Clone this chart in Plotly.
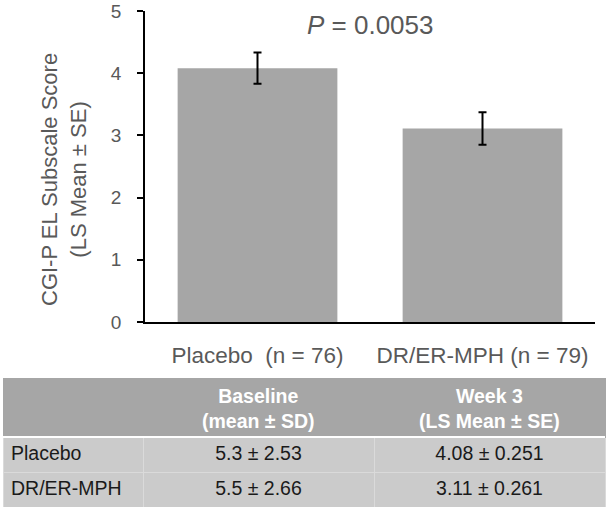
import plotly.graph_objects as go

# ---- data ----
categories = ["Placebo\u00a0\u00a0(n = 76)", "DR/ER-MPH (n = 79)"]
ls_means = [4.08, 3.11]
ls_se = [0.251, 0.261]
y_ticks = [0, 1, 2, 3, 4, 5]
p_value_text = "<i>P</i> = 0.0053"

table_header = ["", "<b>Baseline<br>(mean ± SD)</b>", "<b>Week 3<br>(LS Mean ± SE)</b>"]
table_groups = ["Placebo", "DR/ER-MPH"]
table_baseline = ["5.3 ± 2.53", "5.5 ± 2.66"]
table_week3 = ["4.08 ± 0.251", "3.11 ± 0.261"]

W, H = 609, 512
FONT = "Arial, 'Liberation Sans', sans-serif"
GRAY_TXT = "#595959"

# table geometry (px)
T_LEFT, T_RIGHT, T_TOP, T_BOTTOM = 3, 605, 378, 507
COL_W = [140, 231, 231]
HEAD_H, ROW_H = 59, 35

fig = go.Figure()

fig.add_trace(go.Bar(
    x=categories,
    y=ls_means,
    marker=dict(color="#a6a6a6", line=dict(width=0)),
    error_y=dict(type="data", array=ls_se, visible=True,
                 color="black", thickness=2, width=4),
    xaxis="x", yaxis="y",
    showlegend=False,
    hoverinfo="skip",
))

fig.add_trace(go.Table(
    domain=dict(x=[T_LEFT / W, T_RIGHT / W], y=[1 - T_BOTTOM / H, 1 - T_TOP / H]),
    columnwidth=COL_W,
    header=dict(
        values=["", "", ""],
        fill_color="#a6a6a6",
        line=dict(color="#a6a6a6", width=1),
        height=HEAD_H,
    ),
    cells=dict(
        values=[table_groups, table_baseline, table_week3],
        fill_color="#cbcbcb",
        line=dict(color="#dadada", width=1),
        align=["left", "center", "center"],
        font=dict(family=FONT, size=19.5, color="#1a1a1a"),
        height=ROW_H,
    ),
))

# header labels as centred annotations
annotations = []
col_left = T_LEFT
for i, w in enumerate(COL_W):
    if table_header[i]:
        annotations.append(dict(
            text=table_header[i],
            x=(col_left + w / 2) / W, y=1 - (T_TOP + HEAD_H / 2 + 1) / H,
            xref="paper", yref="paper", xanchor="center", yanchor="middle",
            showarrow=False, align="center",
            font=dict(family=FONT, size=19.5, color="white"),
        ))
    col_left += w

annotations += [
    dict(
        text=p_value_text,
        x=370 / W, y=1 - 25 / H, xref="paper", yref="paper",
        xanchor="center", yanchor="middle", showarrow=False,
        font=dict(family=FONT, size=26, color=GRAY_TXT),
    ),
    dict(
        text="CGI-P EL Subscale Score<br>(LS Mean ± SE)",
        x=64 / W, y=1 - 180 / H, xref="paper", yref="paper",
        xanchor="center", yanchor="middle", showarrow=False,
        textangle=-90,
        font=dict(family=FONT, size=22, color=GRAY_TXT),
    ),
]

fig.update_layout(
    width=W, height=H,
    autosize=False,
    margin=dict(l=0, r=0, t=0, b=0, autoexpand=False),
    paper_bgcolor="white",
    plot_bgcolor="white",
    bargap=0.29,
    font=dict(family=FONT, color=GRAY_TXT),
    xaxis=dict(
        domain=[145 / W, 595 / W],
        automargin=False,
        showline=True, linecolor="black", linewidth=1.5,
        ticks="", showgrid=False, zeroline=False,
        tickfont=dict(family=FONT, size=22.5, color=GRAY_TXT),
        ticklabelstandoff=12,
    ),
    yaxis=dict(
        domain=[1 - 322 / H, 1 - 11 / H],
        automargin=False,
        range=[0, 5],
        tickvals=y_ticks,
        showline=True, linecolor="black", linewidth=1.5,
        ticks="outside", ticklen=6, tickcolor="black", tickwidth=1.5,
        showgrid=False, zeroline=False,
        tickfont=dict(family=FONT, size=19, color=GRAY_TXT),
        ticklabelstandoff=12,
    ),
    annotations=annotations,
    shapes=[
        dict(type="line", xref="paper", yref="paper",
             x0=T_LEFT / W, x1=T_RIGHT / W,
             y0=1 - (T_TOP + HEAD_H) / H, y1=1 - (T_TOP + HEAD_H) / H,
             line=dict(color="white", width=2), layer="above"),
    ],
)

fig.write_html(
    "out.html",
    config={"displayModeBar": False},
    post_script="document.body.style.margin='0px';document.body.style.overflow='hidden';",
)
